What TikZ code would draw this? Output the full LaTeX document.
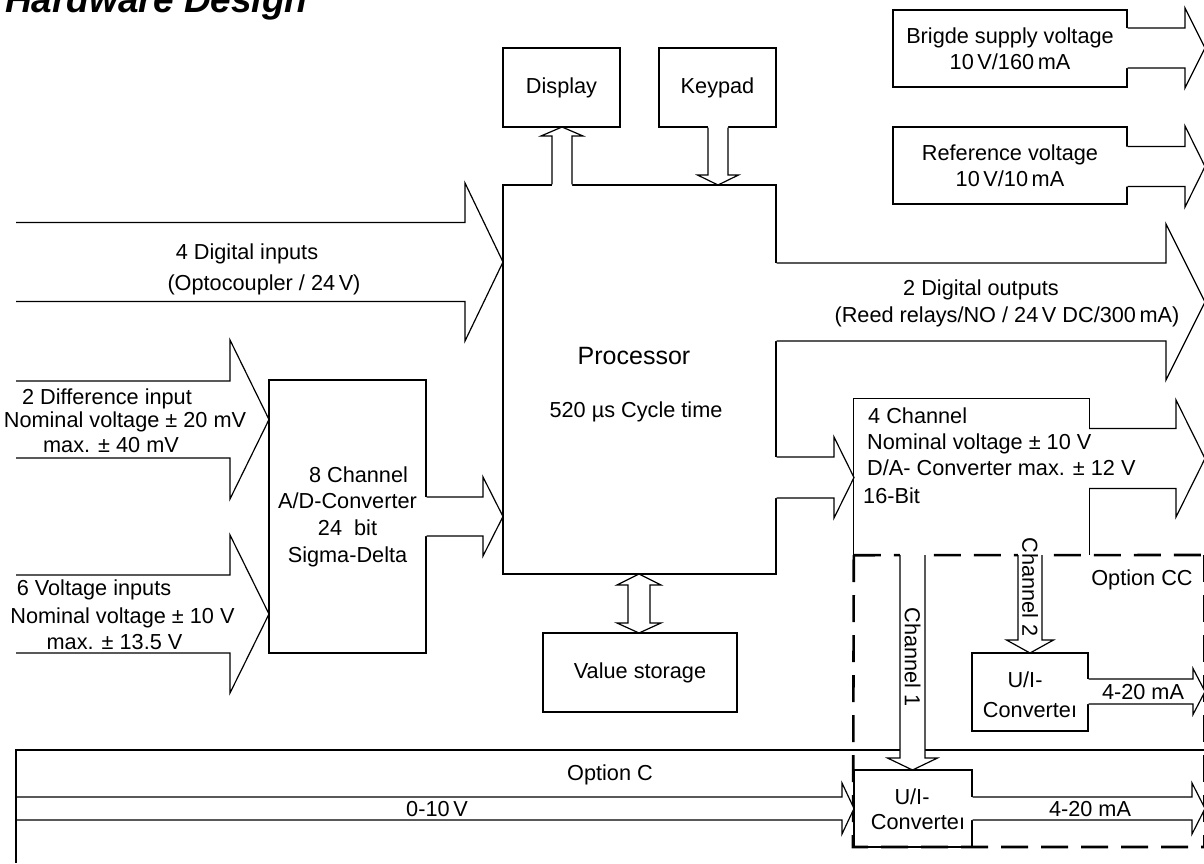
\documentclass[tikz,border=0pt]{standalone}
\usepackage{fontspec}
\setmainfont{Liberation Sans}
\usetikzlibrary{calc}

\newcommand\fsmain{\fontsize{21.7}{25.5}\selectfont}
\newcommand\fsproc{\fontsize{25}{28}\selectfont}
\newcommand\fstitle{\fontsize{37}{40}\selectfont\bfseries\itshape}

% horizontal block arrow: start (x used), tip, head length, shaft half, head half, fill overlap
\newcommand\hfat[6]{%
  \fill[white] ($(#1|-#2)+(-#6,-#4)$) -- ($(#2)+(-#3,-#4)$) -- ($(#2)+(-#3,-#5)$) -- (#2)
    -- ($(#2)+(-#3,#5)$) -- ($(#2)+(-#3,#4)$) -- ($(#1|-#2)+(-#6,#4)$) -- cycle;
  \draw[fat] ($(#1|-#2)+(0,-#4)$) -- ($(#2)+(-#3,-#4)$) -- ($(#2)+(-#3,-#5)$) -- (#2)
    -- ($(#2)+(-#3,#5)$) -- ($(#2)+(-#3,#4)$) -- ($(#1|-#2)+(0,#4)$);
}
% vertical block arrow: start (y used), tip, head length (signed), shaft half, head half, fill overlap
\newcommand\vfat[6]{%
  \fill[white] ($(#2|-#1)+(-#4,#6)$) -- ($(#2)+(-#4,-#3)$) -- ($(#2)+(-#5,-#3)$) -- (#2)
    -- ($(#2)+(#5,-#3)$) -- ($(#2)+(#4,-#3)$) -- ($(#2|-#1)+(#4,#6)$) -- cycle;
  \draw[fat] ($(#2|-#1)+(-#4,0)$) -- ($(#2)+(-#4,-#3)$) -- ($(#2)+(-#5,-#3)$) -- (#2)
    -- ($(#2)+(#5,-#3)$) -- ($(#2)+(#4,-#3)$) -- ($(#2|-#1)+(#4,0)$);
}

\begin{document}
\begin{tikzpicture}[x=1pt,y=-1pt,
  every node/.style={font=\fsmain, inner sep=0pt},
  box/.style={draw, line width=1.3pt, align=center},
  fat/.style={line width=1.2pt, line join=miter},
  txt/.style={anchor=base},
  txtl/.style={anchor=base west},
  optdash/.style={line width=2.6pt, dash pattern=on 27pt off 13pt},
  optline/.style={line width=2pt}]

\useasboundingbox (0,0) rectangle (1204,863);
\fill[white] (0,0) rectangle (1204,863);
\clip (0,0) rectangle (1204,863);

\node[anchor=base west, font=\fstitle] (title) at (5,12) {Hardware Design};

% blocks
\node[box, minimum width=117pt, minimum height=79pt] (disp) at (561.5,87.5) {Display};
\node[box, minimum width=117pt, minimum height=79pt] (keyp) at (717.5,87.5) {Keypad};
\node[box, minimum width=234pt, minimum height=77pt] (bridge) at (1010,48.5)
  {Brigde supply voltage\\10\,V/160\,mA};
\node[box, minimum width=234pt, minimum height=77pt] (refv) at (1010,165.5)
  {Reference voltage\\10\,V/10\,mA};
\node[box, minimum width=273pt, minimum height=389pt] (proc) at (639.5,379.5) {};
\node[box, minimum width=194pt, minimum height=79pt] (vstore) at (640,672.5) {Value storage};
\node[box, minimum width=157pt, minimum height=273pt, font=\fontsize{21.7}{26.7}\selectfont]
  (adc) at (347.5,516.5)
  {\hspace*{22pt}8 Channel\\A/D-Converter\\24\ \ bit\\Sigma-Delta};
\node[minimum width=235pt, minimum height=156pt] (dac) at (971.5,477) {};
\draw[line width=1.3pt] (dac.south west) -- (dac.north west) -- (dac.north east) -- (dac.south east);
\node[box, minimum width=116pt, minimum height=78pt] (uic2) at (1030,692) {};
\node[box, minimum width=118pt, minimum height=77pt] (uic1) at (913,808.5) {};

% option C frame and option CC dashed frame
\draw[optline] (16,750) -- (1204,750);
\draw[optdash] (dac.south west) -- (1204,555);
\draw[optdash] (dac.south west) -- (853,847) -- (1204,847);
\draw[optdash] (1204,555) -- (1204,847);

% tips and free ends
\coordinate (inL) at (16,0);
\coordinate (optL) at (16,0);
\coordinate (diTip) at (503,262);
\coordinate (dfTip) at (269,419.5);
\coordinate (vtTip) at (269,614);
\coordinate (adTip) at (503,516.5);
\coordinate (doTip) at (1205,302);
\coordinate (daTip) at (854,477.5);
\coordinate (brTip) at (1205,48);
\coordinate (rvTip) at (1205,166.5);
\coordinate (dqTip) at (1205,458.5);
\coordinate (u2Tip) at (1205,691.5);
\coordinate (u1Tip) at (1205,808.5);
\coordinate (zTip) at (854,808.5);
\coordinate (dsTip) at (562,127);
\coordinate (kpTip) at (718,185);
\coordinate (c2Tip) at (1030,653);
\coordinate (c1Tip) at (912.5,770);
\coordinate (vsTop) at (639,574);
\coordinate (vsBot) at (639,633);

% connectors
\hfat{inL}{diTip}{38}{39.5}{79}{0}
\hfat{inL}{dfTip}{39}{38.5}{79.5}{0}
\hfat{inL}{vtTip}{39}{39}{79}{0}
\hfat{adc.east}{adTip}{20}{19.5}{39.5}{1.5}
\hfat{proc.east}{doTip}{39}{39}{78}{1.5}
\hfat{proc.east}{daTip}{20}{20.5}{40.5}{1.5}
\hfat{bridge.east}{brTip}{20}{20}{40}{1.5}
\hfat{refv.east}{rvTip}{20}{20}{40.5}{1.5}
\hfat{dac.east}{dqTip}{29}{30}{58.5}{1.5}
\hfat{uic2.east}{u2Tip}{12}{12.5}{23}{1.5}
\hfat{uic1.east}{u1Tip}{13}{11.5}{25.5}{1.5}
\hfat{optL}{zTip}{12}{11.5}{25.5}{-1}
\vfat{proc.north}{dsTip}{-9}{10}{21}{1.5}
\vfat{keyp.south}{kpTip}{10}{10}{20.5}{-1.5}
\vfat{dac.south}{c2Tip}{13}{12}{23.5}{-2}
\vfat{dac.south}{c1Tip}{12}{12.5}{25}{-2}
\draw[fat, fill=white] (vsTop) -- ($(vsTop)+(22,11)$) -- ($(vsTop)+(11,11)$) -- ($(vsBot)+(11,-10)$)
  -- ($(vsBot)+(22,-10)$) -- (vsBot) -- ($(vsBot)+(-22,-10)$) -- ($(vsBot)+(-11,-10)$)
  -- ($(vsTop)+(-11,11)$) -- ($(vsTop)+(-22,11)$) -- cycle;
\draw[optline] (16,749) -- (16,863);

% labels
\node[txt] (tDI1) at (247,259.5) {4 Digital inputs};
\node[txt] (tDI2) at (264,290.5) {(Optocoupler / 24\,V)};
\node[txt] (tDO1) at (981,295.5) {2 Digital outputs};
\node[txt] (tDO2) at (1007,322.5) {(Reed relays/NO / 24\,V DC/300\,mA)};
\node[txt, font=\fsproc] (tPr) at (634,364) {Processor};
\node[txt] (tCy) at (636,417.5) {520 µs Cycle time};
\node[txt] (tDf1) at (107,404.5) {2 Difference input};
\node[txt] (tDf2) at (125,427.5) {Nominal voltage ± 20 mV};
\node[txt] (tDf3) at (111,452.5) {max. ± 40 mV};
\node[txt] (tVt1) at (94,595.5) {6 Voltage inputs};
\node[txt] (tVt2) at (122.5,623.5) {Nominal voltage ± 10 V};
\node[txt] (tVt3) at (114.5,649.5) {max. ± 13.5 V};
\node[txtl] (tDa1) at (868,423.5) {4 Channel};
\node[txtl] (tDa2) at (867,449.5) {Nominal voltage ± 10 V};
\node[txtl] (tDa3) at (867,475.5) {D/A- Converter max. ± 12 V};
\node[txtl] (tDa4) at (863,503.5) {16-Bit};
\node[rotate=-90] (tC2) at (1030,587) {Channel 2};
\node[rotate=-90] (tC1) at (912.5,657) {Channel 1};
\node[txt] (tOcc) at (1142,585.5) {Option CC};
\node[txt] (tU2a) at (1025,687.5) {U/I-};
\node[txt] (tU2b) at (1030,717.5) {Converteı};
\node[txt] (tMa2) at (1143,699.5) {4-20 mA};
\node[txt] (tU1a) at (912,804.5) {U/I-};
\node[txt] (tU1b) at (918,829.5) {Converteı};
\node[txt] (tMa1) at (1090,816.5) {4-20 mA};
\node[txt] (tOc) at (610,780.5) {Option C};
\node[txt] (tZv) at (437,816.5) {0-10\,V};
\end{tikzpicture}
\end{document}
